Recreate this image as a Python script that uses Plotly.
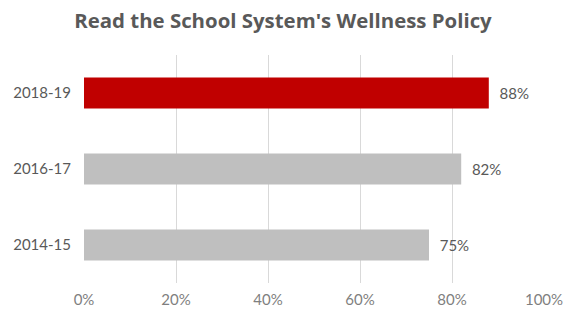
import plotly.graph_objects as go

categories = ["2014-15", "2016-17", "2018-19"]
values = [75, 82, 88]
colors = ["#BFBFBF", "#BFBFBF", "#C00000"]
tick_vals = [0, 20, 40, 60, 80, 100]
tick_text = ["0%", "20%", "40%", "60%", "80%", "100%"]

fig = go.Figure(go.Bar(
    y=categories, x=values, orientation="h",
    marker=dict(color=colors, line=dict(width=0)),
    width=0.41,
    text=[f"  {v}%" for v in values], textposition="outside",
    textfont=dict(family="Lato, DejaVu Sans", size=15, color="#595959"),
    cliponaxis=False, hoverinfo="skip",
))
fig.update_layout(
    width=566, height=314,
    margin=dict(l=84, r=22, t=55, b=31, autoexpand=False),
    paper_bgcolor="white", plot_bgcolor="white",
    title=dict(text="<b>Read the School System's Wellness Policy</b>", x=0.5, xanchor="center",
               y=0.935, yanchor="middle", automargin=False,
               font=dict(family="Open Sans, DejaVu Sans", size=20.4, color="#595959")),
    xaxis=dict(range=[0, 100], tickvals=tick_vals, ticktext=tick_text, automargin=False,
               showgrid=True, gridcolor="#D9D9D9", gridwidth=1, zeroline=False,
               showline=False, ticks="", ticklen=0, ticklabelstandoff=6,
               tickfont=dict(family="Lato, DejaVu Sans", size=15, color="#7F7F7F")),
    yaxis=dict(showgrid=False, zeroline=False, showline=False, ticks="", automargin=False,
               ticklabelstandoff=12,
               tickfont=dict(family="Lato, DejaVu Sans", size=15, color="#595959")),
    showlegend=False, bargap=0.6,
)
fig.write_html("out.html", config={"displayModeBar": False},
               post_script="document.body.style.margin='0';")
